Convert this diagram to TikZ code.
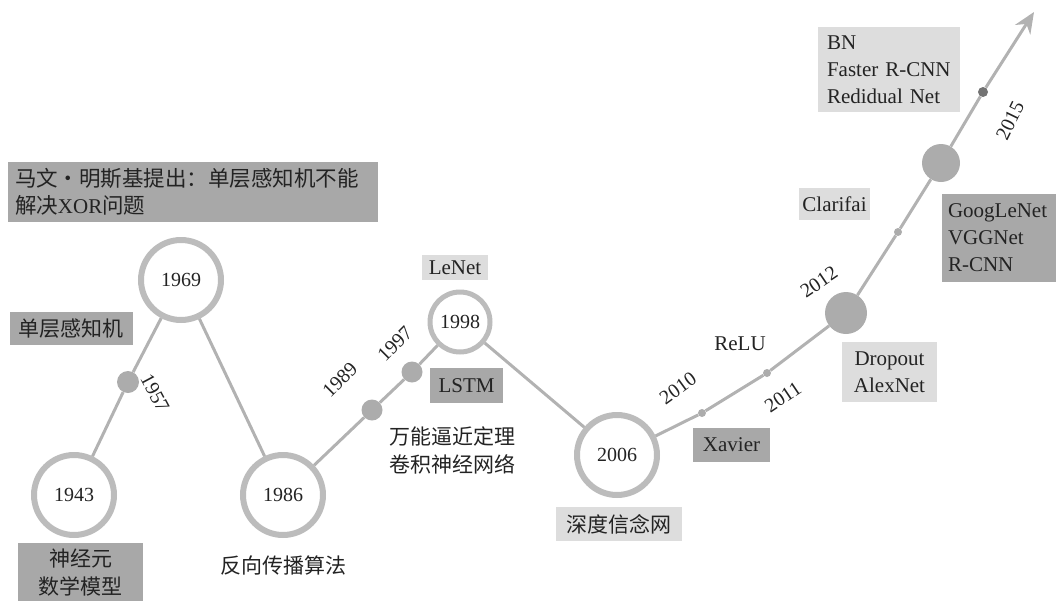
\documentclass[tikz,border=0pt]{standalone}
\usepackage{fontspec}
\setmainfont{Liberation Serif}
\newfontfamily\cjk{Noto Sans CJK SC}
\usetikzlibrary{arrows.meta}
\definecolor{dbox}{RGB}{168,168,168}
\definecolor{lbox}{RGB}{221,221,221}
\definecolor{ring}{RGB}{188,188,188}
\definecolor{tline}{RGB}{178,178,178}
\definecolor{dotc}{RGB}{172,172,172}
\definecolor{dotd}{RGB}{115,115,115}
\definecolor{txt}{RGB}{35,35,35}
\begin{document}
\begin{tikzpicture}[x=1pt,y=-1pt,
  every node/.style={text=txt, font=\fontsize{21}{27}\selectfont, inner sep=0pt},
  cj/.style={font=\cjk\fontsize{21}{28}\selectfont},
  yr/.style={circle, draw=ring, line width=6pt, fill=white, minimum size=80pt, font=\fontsize{20}{24}\selectfont},
  yrs/.style={circle, draw=ring, line width=5pt, fill=white, minimum size=60pt, font=\fontsize{20}{24}\selectfont},
  bigdot/.style={circle, fill=dotc, minimum size=#1},
  tinydot/.style={circle, fill=dotc, minimum size=8pt},
  dbx/.style={fill=dbox},
  lbx/.style={fill=lbox},
  tl/.style={draw=tline, line width=3pt},
  lbl/.style={font=\fontsize{20}{24}\selectfont}
]
\useasboundingbox (0,0) rectangle (1058,600);

% year circles and dots
\node[yr] (c1943) at (74,495) {1943};
\node[yr] (c1969) at (181,280) {1969};
\node[yr] (c1986) at (283,495) {1986};
\node[yrs] (c1998) at (460,322) {1998};
\node[yr] (c2006) at (617,455) {2006};
\node[bigdot=42pt] (c2012) at (846,313) {};
\node[bigdot=38pt] (c2015) at (941,163) {};
\node[bigdot=22pt] (d1957) at (128,382) {};
\node[bigdot=21pt] (d1989) at (372,410) {};
\node[bigdot=21pt] (d1997) at (412,372) {};
\node[tinydot] (d2010) at (702,413) {};
\node[tinydot] (d2011) at (767,373) {};
\node[tinydot] (dcl) at (898,232) {};
\node[circle, fill=dotd, minimum size=10pt] (d2015) at (983,92) {};
\coordinate (tip) at (1034,12);

% connectors
\draw[tl] (c1943) -- (d1957);
\draw[tl] (d1957) -- (c1969);
\draw[tl] (c1969) -- (c1986);
\draw[tl] (c1986) -- (d1989);
\draw[tl] (d1989) -- (d1997);
\draw[tl] (d1997) -- (c1998);
\draw[tl] (c1998) -- (c2006);
\draw[tl] (c2006) -- (d2010);
\draw[tl] (d2010) -- (d2011);
\draw[tl] (d2011) -- (c2012);
\draw[tl] (c2012) -- (dcl);
\draw[tl] (dcl) -- (c2015);
\draw[tl] (c2015) -- (d2015);
\draw[tl, -{Stealth[length=21pt,width=18pt]}] (d2015) -- (tip);

% year labels on the line
\node[lbl, rotate=-62] (t1957) at (155,393) {1957};
\node[lbl, rotate=45] (t1989) at (340,380) {1989};
\node[lbl, rotate=45] (t1997) at (395,344) {1997};
\node[lbl, rotate=36] (t2010) at (678,388) {2010};
\node[lbl, rotate=34] (t2011) at (783,397) {2011};
\node[lbl, rotate=34] (t2012) at (819,282) {2012};
\node[lbl, rotate=64] (t2015) at (1010,121) {2015};

% boxes
\node[dbx, minimum width=370pt, minimum height=60pt, text width=356pt, align=left,
  font=\cjk\fontsize{21.5}{27}\selectfont] (minsky) at (193,192)
  {马文·明斯基提出：单层感知机不能\\解决{\rmfamily\fontsize{21}{27}\selectfont XOR}问题};
\node[dbx, cj, minimum width=123pt, minimum height=33pt] (perc) at (71.5,328.5) {单层感知机};
\node[dbx, cj, minimum width=125pt, minimum height=60pt, align=center] (neuron) at (80.5,573)
  {神经元\\数学模型};
\node[cj] (bp) at (283,565) {反向传播算法};
\node[lbx, minimum width=66pt, minimum height=25pt] (lenet) at (455,267.5) {LeNet};
\node[dbx, minimum width=73pt, minimum height=35pt] (lstm) at (466.5,385.5) {LSTM};
\node[cj, align=left] (uat) at (452,450) {万能逼近定理\\卷积神经网络};
\node[lbx, cj, minimum width=126pt, minimum height=34pt] (dbn) at (619,524) {深度信念网};
\node (relu) at (740,344) {ReLU};
\node[dbx, minimum width=77pt, minimum height=34pt] (xavier) at (731.5,445) {Xavier};
\node[lbx, minimum width=95pt, minimum height=60pt, align=center] (drop) at (889.5,372) {Dropout\\AlexNet};
\node[dbx, minimum width=114pt, minimum height=88pt, text width=102pt, align=left] (goog) at (999,238) {GoogLeNet\\VGGNet\\R-CNN};
\node[lbx, minimum width=71pt, minimum height=32pt] (clar) at (834.5,204) {Clarifai};
\node[lbx, minimum width=142pt, minimum height=85pt, text width=124pt, align=left] (bn) at (889,69.5) {BN\\Faster R-CNN\\Redidual Net};
\end{tikzpicture}
\end{document}
